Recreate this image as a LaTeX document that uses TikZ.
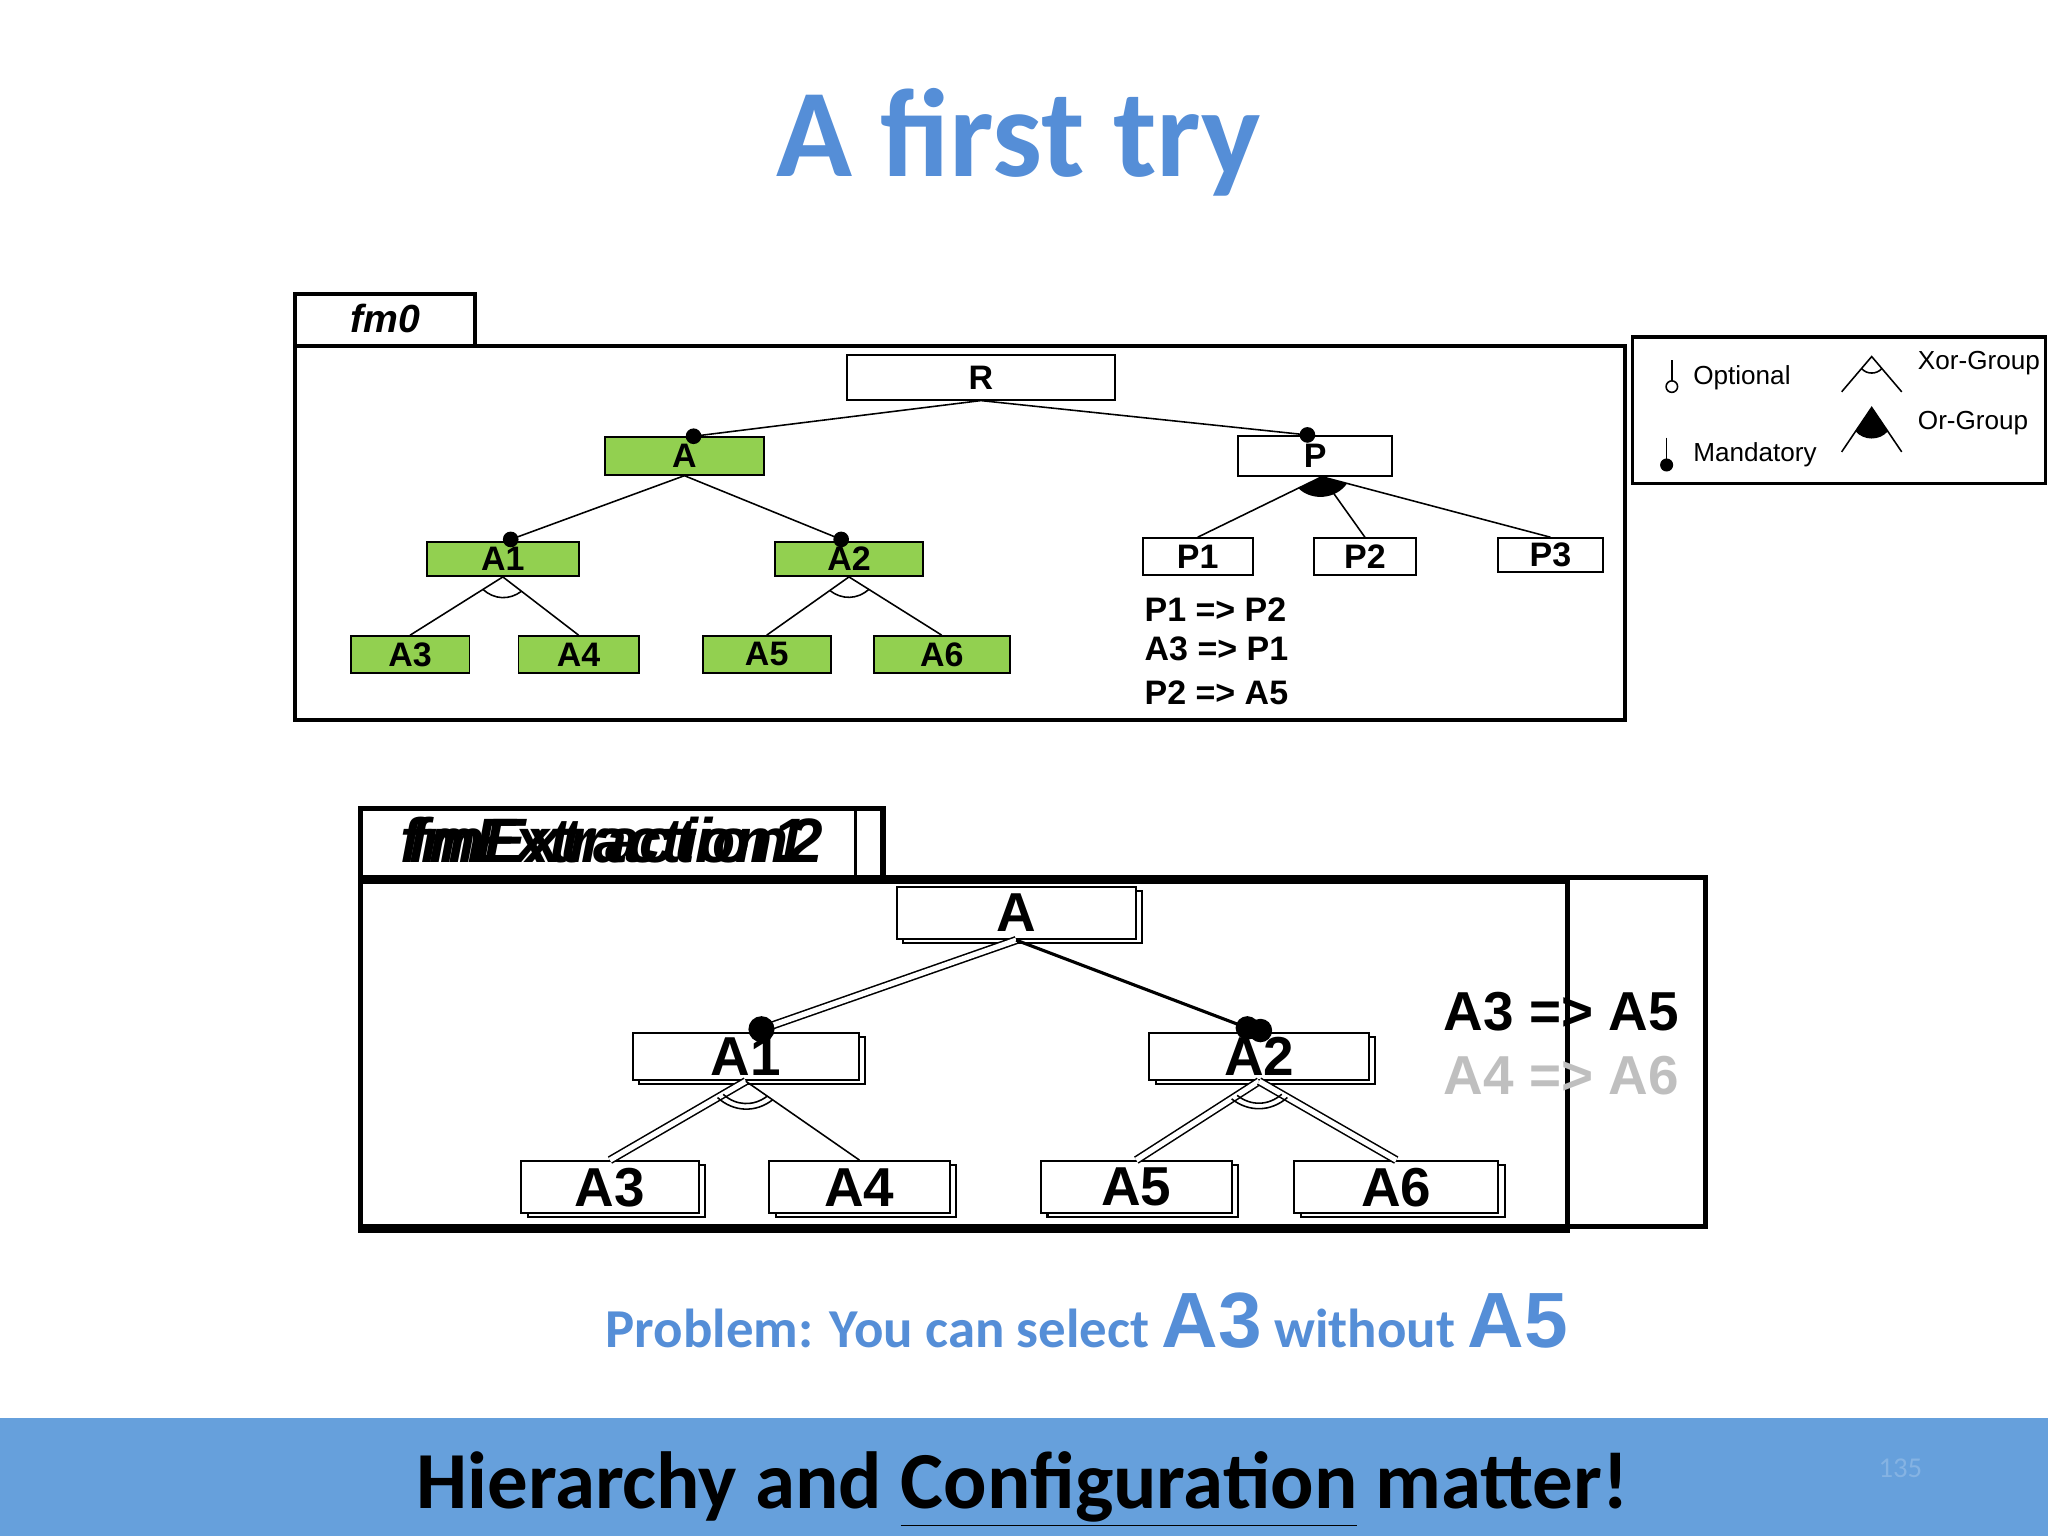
\documentclass[tikz,border=0pt]{standalone}
\usepackage{fontspec}
\setmainfont{Liberation Sans}
\newfontfamily\calfnt{Carlito}
\usetikzlibrary{calc,shadows}
\definecolor{ttl}{RGB}{85,142,215}
\definecolor{bar}{RGB}{102,160,220}
\definecolor{grn}{RGB}{146,208,80}
\tikzset{
 sbox/.style={draw,line width=0.7pt,inner sep=0pt,font=\bfseries\fontsize{13}{13}\selectfont},
 gbox/.style={sbox,fill=grn},
 dbox/.style={draw,fill=white,line width=0.8pt,inner sep=0pt,font=\bfseries\fontsize{21}{21}\selectfont,
   copy shadow={shadow xshift=2.5pt,shadow yshift=-1.5pt,draw,fill=white,line width=0.8pt}},
 ed/.style={line width=0.6pt},
 ded/.style={double,double distance=2pt,line width=0.6pt},
 lg/.style={font=\fontsize{10}{10}\selectfont,anchor=west,inner sep=0pt},
}
\begin{document}
\begin{tikzpicture}[x=0.5pt,y=-0.5pt]
\useasboundingbox (0,0) rectangle (1568,1176);
\fill[white] (0,0) rectangle (1568,1176);
\node[font=\calfnt\bfseries\fontsize{48}{48}\selectfont,text=ttl,anchor=base] (title) at (780,135) {A first try};
% fm0
\draw[line width=1.5pt] (226,264) -- (226,225) -- (364,225) -- (364,264);
\node[font=\bfseries\itshape\fontsize{15}{15}\selectfont] (fmz) at (295,244) {fm0};
\draw[line width=1.5pt] (226,265) rectangle (1244,551);
\node[sbox,minimum width=102.5pt,minimum height=17pt] (R) at (751,289) {R};
\node[gbox,minimum width=61pt,minimum height=14.5pt] (A) at (524,349) {A};
\node[sbox,minimum width=59pt,minimum height=15.5pt] (P) at (1007,349) {P};
\node[gbox,minimum width=58pt,minimum height=13pt] (A1) at (385,428) {A1};
\node[gbox,minimum width=56.5pt,minimum height=13pt] (A2) at (650,428) {A2};
\node[gbox,minimum width=45.5pt,minimum height=14pt] (A3) at (314,501) {A3};
\node[gbox,minimum width=46pt,minimum height=14pt] (A4) at (443,501) {A4};
\node[gbox,minimum width=49pt,minimum height=14pt] (A5) at (587,501) {A5};
\node[gbox,minimum width=52pt,minimum height=14pt] (A6) at (721,501) {A6};
\node[sbox,minimum width=42pt,minimum height=14pt] (P1) at (917,426) {P1};
\node[sbox,minimum width=39pt,minimum height=14pt] (P2) at (1045,426) {P2};
\node[sbox,minimum width=40pt,minimum height=13pt] (P3) at (1187,425) {P3};
\coordinate (Ra) at (531,334); \coordinate (Pa) at (1001,333);
\draw[ed] (R.south) -- (Ra); \draw[ed] (R.south) -- (Pa);
\fill (Ra) circle (3pt); \fill (Pa) circle (3pt);
\coordinate (A1a) at (391,413); \coordinate (A2a) at (644,413);
\draw[ed] (A.south) -- (A1a); \draw[ed] (A.south) -- (A2a);
\fill (A1a) circle (3pt); \fill (A2a) circle (3pt);
\draw[ed] (A1.south) -- (A3.north); \draw[ed] (A1.south) -- (A4.north);
\draw[ed] ($(A1.south)!9pt!(A3.north)$) to[bend right=40] ($(A1.south)!9pt!(A4.north)$);
\draw[ed] (A2.south) -- (A5.north); \draw[ed] (A2.south) -- (A6.north);
\draw[ed] ($(A2.south)!9pt!(A5.north)$) to[bend right=40] ($(A2.south)!9pt!(A6.north)$);
\coordinate (Pb) at (1012,365);
\draw[ed] (Pb) -- (P1.north); \draw[ed] (Pb) -- (P2.north); \draw[ed] (Pb) -- (P3.north);
\fill (Pb) -- ($(Pb)!10pt!(P1.north)$) to[bend right=50] ($(Pb)!10pt!(P3.north)$) -- cycle;
\node[font=\bfseries\fontsize{13}{13}\selectfont,anchor=base west,inner sep=0pt] (c1) at (876,476) {P1 => P2};
\node[font=\bfseries\fontsize{13}{13}\selectfont,anchor=base west,inner sep=0pt] (c2) at (876,506) {A3 => P1};
\node[font=\bfseries\fontsize{13}{13}\selectfont,anchor=base west,inner sep=0pt] (c3) at (876,539) {P2 => A5};
% legend
\draw[line width=1.2pt] (1250,258) rectangle (1566,370);
\draw[ed] (1280,276) -- (1280,292); \draw[ed] (1280,296) circle (2.2pt);
\node[lg] (lo) at (1296,289) {Optional};
\draw[ed] (1276,335) -- (1276,355); \fill (1276,356) circle (2.5pt);
\node[lg] (lm) at (1296,348) {Mandatory};
\draw[ed] (1410,300) -- (1433,273) -- (1456,300);
\draw[ed] ($(1433,273)!6pt!(1410,300)$) to[bend right=50] ($(1433,273)!6pt!(1456,300)$);
\node[lg] (lx) at (1468,278) {Xor-Group};
\draw[ed] (1410,346) -- (1433,312) -- (1456,346);
\fill (1433,312) -- ($(1433,312)!11pt!(1410,346)$) to[bend right=50] ($(1433,312)!11pt!(1456,346)$) -- cycle;
\node[lg] (lr) at (1468,324) {Or-Group};
% fmExtraction
\draw[line width=2pt] (276,671) -- (276,619) -- (676,619) -- (676,671);
\draw[line width=1.5pt] (655,621) -- (655,671);
\node[font=\bfseries\itshape\fontsize{24}{24}\selectfont,anchor=base west,xscale=0.97] (fx1) at (300,660) {fmExtraction1};
\node[font=\bfseries\itshape\fontsize{24}{24}\selectfont,anchor=base west,xscale=0.99] (fx2) at (306,660) {fmExtraction2};
\draw[line width=2pt] (276,672) rectangle (1306,939);
\draw[line width=2pt] (276,675) rectangle (1200,942);
\node[dbox,minimum width=91.5pt,minimum height=20pt] (B) at (778,699) {A};
\node[dbox,minimum width=86.5pt,minimum height=18pt] (B1) at (571,809) {A1};
\node[dbox,minimum width=84pt,minimum height=18pt] (B2) at (964,809) {A2};
\node[dbox,minimum width=68pt,minimum height=20pt] (B3) at (467,909) {A3};
\node[dbox,minimum width=69pt,minimum height=20pt] (B4) at (658,909) {A4};
\node[dbox,minimum width=73pt,minimum height=20pt] (B5) at (870,909) {A5};
\node[dbox,minimum width=78pt,minimum height=20pt] (B6) at (1069,909) {A6};
\coordinate (B1a) at (583,788); \coordinate (B2a) at (955,787); \coordinate (B2b) at (965,789);
\draw[ded] (B.south) -- (B1a); \draw[line width=1.2pt] (B.south) -- (B2a);
\fill (B1a) circle (5pt); \fill (B2a) circle (4.5pt); \fill (B2b) circle (4.5pt);
\draw[ded] (B1.south) -- (B3.north); \draw[ed] (B1.south) -- (B4.north);
\draw[ed] ($(B1.south)!12.5pt!(B3.north)$) to[bend right=40] ($(B1.south)!12.5pt!(B4.north)$);
\draw[ed] ($(B1.south)!10pt!(B3.north)$) to[bend right=40] ($(B1.south)!10pt!(B4.north)$);
\draw[ded] (B2.south) -- (B5.north); \draw[ded] (B2.south) -- (B6.north);
\draw[ed] ($(B2.south)!12.5pt!(B5.north)$) to[bend right=40] ($(B2.south)!12.5pt!(B6.north)$);
\draw[ed] ($(B2.south)!10pt!(B5.north)$) to[bend right=40] ($(B2.south)!10pt!(B6.north)$);
\node[font=\bfseries\fontsize{21}{21}\selectfont,anchor=base west,inner sep=0pt] (d1) at (1105,789) {A3 => A5};
\node[font=\bfseries\fontsize{21}{21}\selectfont,anchor=base west,inner sep=0pt,text=black!25] (d2) at (1105,838) {A4 => A6};
% problem
\node[anchor=base,text=ttl,inner sep=0pt] (prob) at (832,1032) {\calfnt\bfseries\fontsize{21}{21}\selectfont Problem: You can select {\fontspec{Liberation Sans}\fontsize{30}{30}\selectfont A3} without {\fontspec{Liberation Sans}\fontsize{30}{30}\selectfont A5}};
% bar
\fill[bar] (0,1086) rectangle (1568,1176);
\node[anchor=base,font=\calfnt\bfseries\fontsize{31}{31}\selectfont] (foot) at (783,1155) {Hierarchy and \underline{Configuration} matter!};
\node[anchor=base,font=\calfnt\fontsize{11}{11}\selectfont,text=bar!80!white] (num) at (1455,1131) {135};
\end{tikzpicture}
\end{document}
